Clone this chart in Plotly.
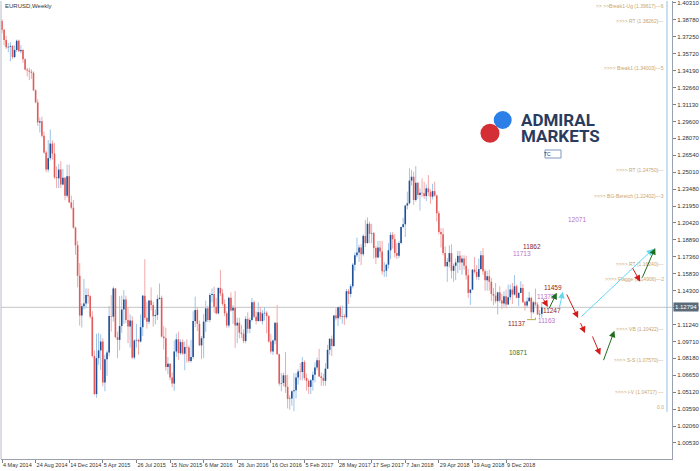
import plotly.graph_objects as go
import pandas as pd

# ---------------- data: EURUSD weekly bars ----------------
start_week = "2014-05-04"

opens = [
    1.3868, 1.3788, 1.3696, 1.3630, 1.3635, 1.3643, 1.3542, 1.3606, 1.3690, 1.3595,
    1.3605, 1.3523, 1.3430, 1.3420, 1.3410, 1.3400, 1.3242, 1.3132, 1.2951, 1.2961,
    1.2830, 1.2680, 1.2525, 1.2628, 1.2760, 1.2670, 1.2455, 1.2446, 1.2525, 1.2390,
    1.2450, 1.2288, 1.2465, 1.2228, 1.2180, 1.2000, 1.1840, 1.1565, 1.1205, 1.1290,
    1.1315, 1.1390, 1.1380, 1.1195, 1.0840, 1.0495, 1.0820, 1.0890, 1.0970, 1.0600,
    1.0810, 1.0870, 1.1200, 1.1195, 1.1450, 1.1010, 1.0985, 1.1110, 1.1260, 1.1350,
    1.1165, 1.1105, 1.1160, 1.0825, 1.0980, 1.0985, 1.0970, 1.1100, 1.1385, 1.1185,
    1.1150, 1.1340, 1.1300, 1.1200, 1.1210, 1.1355, 1.1365, 1.1015, 1.1000, 1.0740,
    1.0770, 1.0645, 1.0590, 1.0880, 1.0990, 1.0865, 1.0965, 1.0860, 1.0920, 1.0915,
    1.0795, 1.0830, 1.1155, 1.1255, 1.1130, 1.0935, 1.1000, 1.1150, 1.1270, 1.1165,
    1.1390, 1.1400, 1.1285, 1.1225, 1.1455, 1.1405, 1.1310, 1.1225, 1.1115, 1.1365,
    1.1250, 1.1275, 1.1115, 1.1140, 1.1050, 1.1040, 1.0975, 1.1175, 1.1085, 1.1165,
    1.1325, 1.1195, 1.1155, 1.1235, 1.1155, 1.1225, 1.1230, 1.1200, 1.0970, 1.0880,
    1.0980, 1.1140, 1.0855, 1.0590, 1.0595, 1.0665, 1.0560, 1.0450, 1.0455, 1.0520,
    1.0530, 1.0645, 1.0700, 1.0695, 1.0785, 1.0640, 1.0615, 1.0560, 1.0620, 1.0670,
    1.0735, 1.0800, 1.0655, 1.0640, 1.0615, 1.0725, 1.0895, 1.0995, 1.0930, 1.1205,
    1.1180, 1.1280, 1.1195, 1.1200, 1.1190, 1.1425, 1.1400, 1.1470, 1.1665, 1.1750,
    1.1775, 1.1820, 1.1760, 1.1925, 1.1860, 1.2035, 1.1945, 1.1950, 1.1815, 1.1730,
    1.1820, 1.1785, 1.1605, 1.1610, 1.1665, 1.1795, 1.1935, 1.1895, 1.1770, 1.1745,
    1.1860, 1.2005, 1.2030, 1.2200, 1.2220, 1.2425, 1.2460, 1.2250, 1.2405, 1.2295,
    1.2315, 1.2310, 1.2285, 1.2355, 1.2320, 1.2280, 1.2330, 1.2290, 1.2130, 1.1960,
    1.1940, 1.1770, 1.1650, 1.1690, 1.1770, 1.1610, 1.1655, 1.1685, 1.1745, 1.1685,
    1.1720, 1.1655, 1.1570, 1.1410, 1.1440, 1.1620, 1.1600, 1.1555, 1.1625, 1.1750,
    1.1605, 1.1525, 1.1560, 1.1510, 1.1400, 1.1385, 1.1335, 1.1415, 1.1340, 1.1315,
    1.1380, 1.1305, 1.1370, 1.1440, 1.1395, 1.1470, 1.1365, 1.1410, 1.1455, 1.1325,
    1.1295, 1.1335, 1.1365, 1.1235, 1.1325, 1.1305, 1.1215, 1.1220,
]
highs = [
    1.3885, 1.3799, 1.3733, 1.3670, 1.3677, 1.3650, 1.3648, 1.3700, 1.3701, 1.3649,
    1.3615, 1.3530, 1.3444, 1.3445, 1.3433, 1.3413, 1.3250, 1.3160, 1.2995, 1.3003,
    1.2867, 1.2698, 1.2792, 1.2887, 1.2790, 1.2765, 1.2555, 1.2577, 1.2600, 1.2530,
    1.2456, 1.2570, 1.2570, 1.2290, 1.2250, 1.2010, 1.1880, 1.1680, 1.1315, 1.1535,
    1.1450, 1.1450, 1.1390, 1.1245, 1.0890, 1.1040, 1.1050, 1.1035, 1.1000, 1.0850,
    1.0890, 1.1290, 1.1390, 1.1467, 1.1455, 1.1060, 1.1380, 1.1385, 1.1435, 1.1385,
    1.1280, 1.1215, 1.1200, 1.0990, 1.1130, 1.0995, 1.1215, 1.1390, 1.1714, 1.1330,
    1.1345, 1.1460, 1.1330, 1.1260, 1.1390, 1.1495, 1.1385, 1.1110, 1.1095, 1.0830,
    1.0775, 1.0690, 1.0980, 1.1042, 1.1060, 1.0990, 1.0990, 1.0970, 1.0990, 1.0935,
    1.0985, 1.1245, 1.1376, 1.1280, 1.1160, 1.1020, 1.1218, 1.1340, 1.1295, 1.1410,
    1.1450, 1.1465, 1.1365, 1.1460, 1.1616, 1.1445, 1.1350, 1.1245, 1.1375, 1.1415,
    1.1300, 1.1427, 1.1185, 1.1185, 1.1120, 1.1080, 1.1200, 1.1235, 1.1185, 1.1365,
    1.1340, 1.1240, 1.1325, 1.1285, 1.1255, 1.1280, 1.1245, 1.1210, 1.1040, 1.0990,
    1.1145, 1.1300, 1.0860, 1.0685, 1.0690, 1.0875, 1.0670, 1.0485, 1.0530, 1.0685,
    1.0685, 1.0720, 1.0775, 1.0830, 1.0800, 1.0680, 1.0630, 1.0630, 1.0700, 1.0780,
    1.0825, 1.0905, 1.0690, 1.0680, 1.0775, 1.0940, 1.1000, 1.1025, 1.1210, 1.1270,
    1.1285, 1.1295, 1.1295, 1.1220, 1.1445, 1.1445, 1.1490, 1.1680, 1.1775, 1.1910,
    1.1845, 1.1850, 1.1940, 1.2070, 1.2092, 1.2055, 1.2035, 1.1960, 1.1835, 1.1880,
    1.1880, 1.1880, 1.1690, 1.1675, 1.1860, 1.1960, 1.1960, 1.1940, 1.1860, 1.1880,
    1.2010, 1.2090, 1.2205, 1.2325, 1.2537, 1.2520, 1.2505, 1.2555, 1.2410, 1.2355,
    1.2445, 1.2415, 1.2390, 1.2475, 1.2345, 1.2395, 1.2415, 1.2300, 1.2150, 1.1995,
    1.1995, 1.1830, 1.1725, 1.1840, 1.1850, 1.1675, 1.1720, 1.1790, 1.1790, 1.1750,
    1.1750, 1.1745, 1.1625, 1.1445, 1.1625, 1.1735, 1.1660, 1.1720, 1.1790, 1.1815,
    1.1625, 1.1610, 1.1620, 1.1545, 1.1455, 1.1500, 1.1420, 1.1470, 1.1400, 1.1425,
    1.1440, 1.1485, 1.1485, 1.1500, 1.1570, 1.1485, 1.1415, 1.1515, 1.1490, 1.1340,
    1.1370, 1.1420, 1.1375, 1.1340, 1.1448, 1.1325, 1.1255, 1.1325,
]
lows = [
    1.3757, 1.3647, 1.3615, 1.3585, 1.3503, 1.3524, 1.3532, 1.3588, 1.3590, 1.3574,
    1.3490, 1.3422, 1.3367, 1.3333, 1.3345, 1.3235, 1.3125, 1.2919, 1.2860, 1.2815,
    1.2667, 1.2500, 1.2501, 1.2606, 1.2614, 1.2440, 1.2358, 1.2358, 1.2358, 1.2380,
    1.2247, 1.2270, 1.2222, 1.2165, 1.1990, 1.1754, 1.1460, 1.1114, 1.1098, 1.1260,
    1.1270, 1.1313, 1.1175, 1.0825, 1.0485, 1.0462, 1.0760, 1.0712, 1.0565, 1.0520,
    1.0660, 1.0840, 1.1060, 1.1150, 1.1000, 1.0820, 1.0890, 1.1050, 1.1130, 1.1135,
    1.0955, 1.0915, 1.0810, 1.0808, 1.0915, 1.0850, 1.0960, 1.1020, 1.1165, 1.1087,
    1.1125, 1.1250, 1.1105, 1.1125, 1.1165, 1.1350, 1.1005, 1.0897, 1.0705, 1.0675,
    1.0620, 1.0557, 1.0524, 1.0830, 1.0805, 1.0850, 1.0850, 1.0710, 1.0780, 1.0780,
    1.0780, 1.0810, 1.1100, 1.1065, 1.0930, 1.0810, 1.0822, 1.1055, 1.1145, 1.1145,
    1.1325, 1.1230, 1.1215, 1.1215, 1.1380, 1.1295, 1.1200, 1.1095, 1.1095, 1.1240,
    1.1130, 1.0912, 1.0955, 1.1000, 1.1000, 1.0955, 1.0955, 1.1045, 1.1045, 1.1150,
    1.1180, 1.1125, 1.1150, 1.1150, 1.1125, 1.1160, 1.1045, 1.0960, 1.0860, 1.0850,
    1.0945, 1.0850, 1.0570, 1.0520, 1.0565, 1.0505, 1.0365, 1.0352, 1.0390, 1.0340,
    1.0455, 1.0580, 1.0620, 1.0620, 1.0620, 1.0525, 1.0495, 1.0495, 1.0525, 1.0600,
    1.0710, 1.0650, 1.0570, 1.0570, 1.0570, 1.0720, 1.0850, 1.0840, 1.0920, 1.1160,
    1.1110, 1.1170, 1.1130, 1.1120, 1.1175, 1.1310, 1.1370, 1.1450, 1.1610, 1.1730,
    1.1690, 1.1660, 1.1740, 1.1825, 1.1855, 1.1860, 1.1860, 1.1720, 1.1670, 1.1725,
    1.1730, 1.1575, 1.1555, 1.1555, 1.1630, 1.1715, 1.1810, 1.1730, 1.1715, 1.1725,
    1.1850, 1.1995, 1.1915, 1.2165, 1.2210, 1.2380, 1.2205, 1.2235, 1.2260, 1.2155,
    1.2275, 1.2260, 1.2240, 1.2285, 1.2215, 1.2255, 1.2280, 1.2055, 1.1940, 1.1820,
    1.1750, 1.1645, 1.1510, 1.1640, 1.1540, 1.1510, 1.1525, 1.1590, 1.1615, 1.1575,
    1.1620, 1.1530, 1.1365, 1.1301, 1.1435, 1.1585, 1.1530, 1.1525, 1.1615, 1.1575,
    1.1430, 1.1430, 1.1430, 1.1335, 1.1300, 1.1315, 1.1215, 1.1320, 1.1265, 1.1285,
    1.1270, 1.1300, 1.1345, 1.1310, 1.1385, 1.1360, 1.1290, 1.1405, 1.1320, 1.1250,
    1.1275, 1.1330, 1.1176, 1.1220, 1.1290, 1.1210, 1.1185, 1.1185,
]
closes = [
    1.3788, 1.3696, 1.3630, 1.3635, 1.3643, 1.3542, 1.3606, 1.3690, 1.3595, 1.3605,
    1.3523, 1.3430, 1.3420, 1.3410, 1.3400, 1.3242, 1.3132, 1.2951, 1.2961, 1.2830,
    1.2680, 1.2525, 1.2628, 1.2760, 1.2670, 1.2455, 1.2446, 1.2525, 1.2390, 1.2450,
    1.2288, 1.2465, 1.2228, 1.2180, 1.2000, 1.1840, 1.1565, 1.1205, 1.1290, 1.1315,
    1.1390, 1.1380, 1.1195, 1.0840, 1.0495, 1.0820, 1.0890, 1.0970, 1.0600, 1.0810,
    1.0870, 1.1200, 1.1195, 1.1450, 1.1010, 1.0985, 1.1110, 1.1260, 1.1350, 1.1165,
    1.1105, 1.1160, 1.0825, 1.0980, 1.0985, 1.0970, 1.1100, 1.1385, 1.1185, 1.1150,
    1.1340, 1.1300, 1.1200, 1.1210, 1.1355, 1.1365, 1.1015, 1.1000, 1.0740, 1.0770,
    1.0645, 1.0590, 1.0880, 1.0990, 1.0865, 1.0965, 1.0860, 1.0920, 1.0915, 1.0795,
    1.0830, 1.1155, 1.1255, 1.1130, 1.0935, 1.1000, 1.1150, 1.1270, 1.1165, 1.1390,
    1.1400, 1.1285, 1.1225, 1.1455, 1.1405, 1.1310, 1.1225, 1.1115, 1.1365, 1.1250,
    1.1275, 1.1115, 1.1140, 1.1050, 1.1040, 1.0975, 1.1175, 1.1085, 1.1165, 1.1325,
    1.1195, 1.1155, 1.1235, 1.1155, 1.1225, 1.1230, 1.1200, 1.0970, 1.0880, 1.0980,
    1.1140, 1.0855, 1.0590, 1.0595, 1.0665, 1.0560, 1.0450, 1.0455, 1.0520, 1.0530,
    1.0645, 1.0700, 1.0695, 1.0785, 1.0640, 1.0615, 1.0560, 1.0620, 1.0670, 1.0735,
    1.0800, 1.0655, 1.0640, 1.0615, 1.0725, 1.0895, 1.0995, 1.0930, 1.1205, 1.1180,
    1.1280, 1.1195, 1.1200, 1.1190, 1.1425, 1.1400, 1.1470, 1.1665, 1.1750, 1.1775,
    1.1820, 1.1760, 1.1925, 1.1860, 1.2035, 1.1945, 1.1950, 1.1815, 1.1730, 1.1820,
    1.1785, 1.1605, 1.1610, 1.1665, 1.1795, 1.1935, 1.1895, 1.1770, 1.1745, 1.1860,
    1.2005, 1.2030, 1.2200, 1.2220, 1.2425, 1.2460, 1.2250, 1.2405, 1.2295, 1.2315,
    1.2310, 1.2285, 1.2355, 1.2320, 1.2280, 1.2330, 1.2290, 1.2130, 1.1960, 1.1940,
    1.1770, 1.1650, 1.1690, 1.1770, 1.1610, 1.1655, 1.1685, 1.1745, 1.1685, 1.1720,
    1.1655, 1.1570, 1.1410, 1.1440, 1.1620, 1.1600, 1.1555, 1.1625, 1.1750, 1.1605,
    1.1525, 1.1560, 1.1510, 1.1400, 1.1385, 1.1335, 1.1415, 1.1340, 1.1315, 1.1380,
    1.1305, 1.1370, 1.1440, 1.1395, 1.1470, 1.1365, 1.1410, 1.1455, 1.1325, 1.1295,
    1.1335, 1.1365, 1.1235, 1.1325, 1.1305, 1.1215, 1.1220, 1.1279,
]
current_price = 1.12794

# axis labels
y_tick_labels = [
    "1.40310", "1.38780", "1.37250", "1.35720", "1.34190", "1.32660", "1.31130",
    "1.29600", "1.28070", "1.26540", "1.25010", "1.23480", "1.21950", "1.20420",
    "1.18890", "1.17360", "1.15830", "1.14300", "1.12770", "1.11240", "1.09710",
    "1.08180", "1.06650", "1.05120", "1.03590", "1.02060", "1.00530",
]
x_tick_dates = [
    "2014-05-04", "2014-08-24", "2014-12-14", "2015-04-05", "2015-07-26", "2015-11-15",
    "2016-03-06", "2016-06-26", "2016-10-16", "2017-02-05", "2017-05-28", "2017-09-17",
    "2018-01-07", "2018-04-29", "2018-08-19", "2018-12-09",
]
x_tick_labels = [
    "4 May 2014", "24 Aug 2014", "14 Dec 2014", "5 Apr 2015", "26 Jul 2015", "15 Nov 2015",
    "6 Mar 2016", "26 Jun 2016", "16 Oct 2016", "5 Feb 2017", "28 May 2017", "17 Sep 2017",
    "7 Jan 2018", "29 Apr 2018", "19 Aug 2018", "9 Dec 2018",
]

# analyst level labels on the right (text, price)
level_texts = [
    ">> >>Break1-Ug (1.39617)---6", ">>>> RT (1.38262)---", ">>>> Break1 (1.34003)---5",
    ">>>> RT (1.24750)---", ">>>> BG-Bereich (1.22402)---3", ">>>> RT (1.16240)---",
    ">>>> Flagge (1.14906)---2", ">>>> VB (1.10422)---", ">>>> S-S (1.07570)---",
    ">>>> i-V (1.04717) ---",
]
level_prices = [1.39617, 1.38262, 1.34003, 1.24750, 1.22402, 1.16240, 1.14906,
                1.10422, 1.07570, 1.04717]
fib_zero_price = 1.0335

# target numbers (text, date, price, colour group, vertical nudge px)
target_texts = ["11713", "11862", "12071", "11459", "11378", "11247", "11163", "11137", "10871"]
target_dates = ["2019-01-31", "2019-03-04", "2019-08-01", "2019-05-13", "2019-04-20",
                "2019-05-10", "2019-04-24", "2019-01-12", "2019-01-18"]
target_prices = [1.1713, 1.1862, 1.2071, 1.1459, 1.1378, 1.1247, 1.1163, 1.1137, 1.0871]
target_groups = ["violet", "darkred", "violet", "darkred", "violet", "darkred", "violet",
                 "darkred", "green"]
target_nudge = [6, -4, 0, 0, 0, 0, 0, 0, 0]

# projected path arrows (start date, start price, end date, end price, colour group)
arrow_start_dates = ["2019-04-10", "2019-04-29", "2019-06-03", "2019-06-27", "2019-08-12",
                     "2019-09-21", "2019-10-28", "2019-08-12", "2020-02-01", "2020-03-05"]
arrow_start_prices = [1.1365, 1.1255, 1.1255, 1.1409, 1.1150, 1.1029, 1.0788, 1.1183,
                      1.1647, 1.1536]
arrow_end_dates = ["2019-04-27", "2019-05-27", "2019-06-16", "2019-08-06", "2019-08-29",
                   "2019-10-19", "2019-12-05", "2020-04-12", "2020-02-29", "2020-04-19"]
arrow_end_prices = [1.1283, 1.1412, 1.1420, 1.1183, 1.1047, 1.0848, 1.1068, 1.1807,
                    1.1511, 1.1816]
arrow_groups = ["red", "green", "cyan", "red", "red", "red", "green", "cyan", "red", "green"]

# support line under the March low
support_dates = ["2019-02-17", "2019-03-17"]
support_price = 1.1168

# ---------------- figure ----------------
W, H = 700, 471
ML, MR, MT, MB = 1, 28, 1, 12
PW, PH = W - ML - MR, H - MT - MB


def px(x):
    return (x - ML) / PW


def py(y):
    return (H - MB - y) / PH


dates = pd.date_range(start_week, periods=len(closes), freq="7D")

UP_WICK, UP_BODY = "#9fc4e8", "#1f4f96"
DN_WICK, DN_BODY = "#f2a9a9", "#e05c5c"


def segments(mask, lo, hi):
    X, Y = [], []
    for d, m, a, b in zip(dates, mask, lo, hi):
        if m:
            X += [d, d, None]
            Y += [a, b, None]
    return X, Y


is_up = [c >= o for o, c in zip(opens, closes)]
is_dn = [not u for u in is_up]
body_lo = [min(o, c) for o, c in zip(opens, closes)]
body_hi = [max(o, c) for o, c in zip(opens, closes)]

fig = go.Figure()
for mask, color in [(is_up, UP_WICK), (is_dn, DN_WICK)]:
    X, Y = segments(mask, lows, highs)
    fig.add_trace(go.Scatter(x=X, y=Y, mode="lines", line=dict(color=color, width=1),
                             hoverinfo="skip", showlegend=False))
for mask, color in [(is_dn, DN_BODY), (is_up, UP_BODY)]:
    X, Y = segments(mask, body_lo, body_hi)
    fig.add_trace(go.Scatter(x=X, y=Y, mode="lines", line=dict(color=color, width=1.6),
                             hoverinfo="skip", showlegend=False))

# support line
fig.add_trace(go.Scatter(x=support_dates + [support_dates[1]],
                         y=[support_price, support_price, support_price + 0.0018],
                         mode="lines", line=dict(color="#b5a84a", width=1),
                         hoverinfo="skip", showlegend=False))

# current price line
fig.add_shape(type="line", xref="paper", x0=0, x1=1, yref="y", y0=current_price,
              y1=current_price, line=dict(color="#c4c4c4", width=1), layer="below")
fig.add_annotation(xref="paper", x=1, xanchor="left", yref="y", y=current_price,
                   text=f"{current_price:.5f}", showarrow=False,
                   font=dict(family="Liberation Sans", size=6, color="white"),
                   bgcolor="#5c6b7a", borderpad=1, xshift=1)

# fib vertical edge
fig.add_shape(type="line", xref="paper", x0=px(667), x1=px(667), yref="y",
              y0=fib_zero_price, y1=1.42, line=dict(color="#8ec0ea", width=1))
fig.add_annotation(xref="paper", x=px(666), xanchor="right", yref="y", y=fib_zero_price,
                   yanchor="bottom", text="0.0", showarrow=False,
                   font=dict(family="Liberation Sans", size=5, color="#c9a46e"))
# left border
fig.add_shape(type="line", xref="paper", x0=0, x1=0, yref="paper", y0=0, y1=1,
              line=dict(color="#b8bccc", width=1))

TAN = "#c9a46e"
for t, p in zip(level_texts, level_prices):
    fig.add_annotation(xref="paper", x=px(666), xanchor="right", yref="y", y=p,
                       yanchor="bottom", text=t, showarrow=False,
                       font=dict(family="Liberation Sans", size=5, color=TAN))

TARGET_COL = {"violet": "#b774c9", "darkred": "#8a2424", "green": "#2c6e2c"}
for t, d, p, g, n in zip(target_texts, target_dates, target_prices, target_groups, target_nudge):
    fig.add_annotation(x=d, y=p, text=t, showarrow=False, yshift=n,
                       font=dict(family="Liberation Sans", size=6.5, color=TARGET_COL[g]))

ARROW_COL = {"red": "#d41c1c", "green": "#1f6e1f", "cyan": "#62d8ee"}
for sd, sp, ed, ep, g in zip(arrow_start_dates, arrow_start_prices, arrow_end_dates,
                             arrow_end_prices, arrow_groups):
    fig.add_annotation(x=ed, y=ep, ax=sd, ay=sp, xref="x", yref="y", axref="x", ayref="y",
                       text="", showarrow=True, arrowhead=2, arrowsize=1.3, arrowwidth=1,
                       arrowcolor=ARROW_COL[g])

# logo
fig.add_shape(type="circle", xref="paper", yref="paper", x0=px(493.7), x1=px(511.7),
              y0=py(129), y1=py(111), fillcolor="#2b7fe6", line=dict(width=0))
fig.add_shape(type="circle", xref="paper", yref="paper", x0=px(480.5), x1=px(499.5),
              y0=py(142.8), y1=py(123.8), fillcolor="#d42f35", line=dict(width=0))
for txt, yc in [("ADMIRAL", 120.5), ("MARKETS", 135.5)]:
    fig.add_annotation(xref="paper", yref="paper", x=px(519), y=py(yc), xanchor="left",
                       yanchor="middle", text=f"<b>{txt}</b>", showarrow=False,
                       font=dict(family="Roboto", size=17, color="#2a3b5e"))
fig.add_shape(type="rect", xref="paper", yref="paper", x0=px(545), x1=px(561),
              y0=py(158), y1=py(150), line=dict(color="#7f95bf", width=1), fillcolor="white")
fig.add_annotation(xref="paper", yref="paper", x=px(553), y=py(154), text="TC",
                   showarrow=False, font=dict(family="Liberation Sans", size=5, color="#2a3b5e"))

# title
fig.add_annotation(xref="paper", yref="paper", x=px(3), y=py(6), xanchor="left",
                   yanchor="middle", text="EURUSD,Weekly", showarrow=False,
                   font=dict(family="Liberation Sans", size=6, color="#333333"))

fig.update_layout(
    width=W, height=H, margin=dict(l=ML, r=MR, t=MT, b=MB),
    paper_bgcolor="white", plot_bgcolor="white", showlegend=False,
    xaxis=dict(type="date", range=["2014-04-30 16:00", "2020-06-14"],
               tickvals=x_tick_dates, ticktext=x_tick_labels, ticks="outside", ticklen=3,
               tickangle=0, tickcolor="#808080", ticklabelposition="outside right",
               tickfont=dict(family="Liberation Sans", size=5.5, color="#333333"),
               showgrid=False, zeroline=False, showline=True, linecolor="#9aa0ac",
               linewidth=1, fixedrange=True, automargin=False),
    yaxis=dict(side="right", range=[0.9908, 1.4049],
               tickvals=[float(v) for v in y_tick_labels], ticktext=y_tick_labels,
               ticks="outside", ticklen=3, tickcolor="#808080",
               tickfont=dict(family="Liberation Sans", size=6, color="#333333"),
               showgrid=False, zeroline=False, showline=True, linecolor="#9aa0ac",
               linewidth=1, fixedrange=True, automargin=False),
)

fig.write_html("out.html", config={"displayModeBar": False},
               post_script="document.body.style.margin='0';document.body.style.overflow='hidden';")
